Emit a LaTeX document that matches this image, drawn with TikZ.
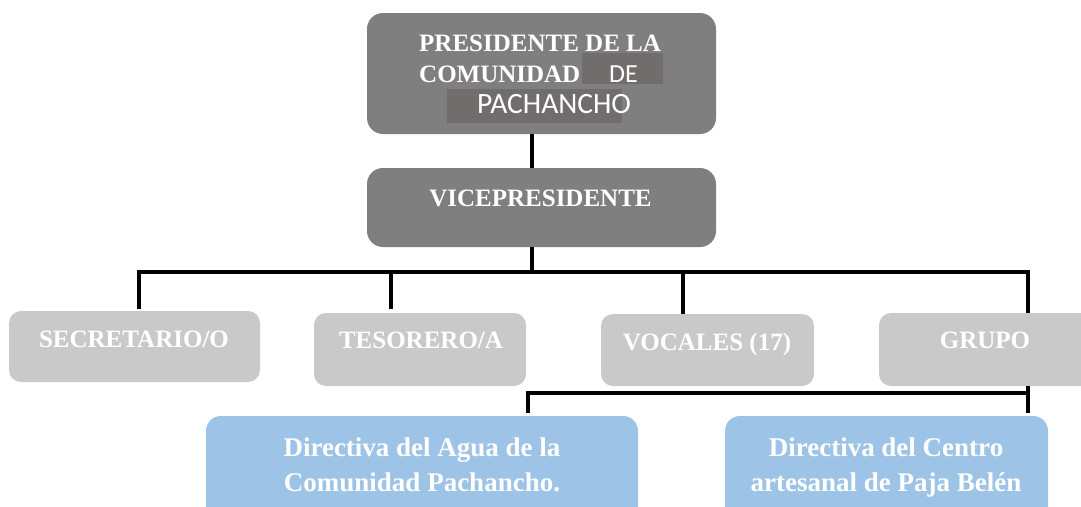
\documentclass[tikz,border=0pt]{standalone}
\usepackage{fontspec}
\setmainfont{Liberation Serif}
\newfontfamily\calib{Carlito}
\definecolor{darkbox}{HTML}{7F7F7F}
\definecolor{hlbox}{HTML}{716D6D}
\definecolor{lightbox}{HTML}{C9C9C9}
\definecolor{bluebox}{HTML}{9DC3E6}
\begin{document}
\begin{tikzpicture}[x=1pt,y=-1pt,
  boxshape/.style={draw=none, inner sep=0pt, outer sep=0pt, anchor=north west},
  darkshape/.style={boxshape, fill=darkbox, rounded corners=16pt},
  lightshape/.style={boxshape, fill=lightbox, rounded corners=12pt},
  blueshape/.style={boxshape, fill=bluebox, rounded corners=15pt},
  hlshape/.style={boxshape, fill=hlbox},
  boldtxt/.style={inner sep=0pt, text=white, font=\bfseries\fontsize{25}{30}\selectfont},
  bluetxt/.style={inner sep=0pt, text=white, font=\bfseries\fontsize{27}{32}\selectfont},
  sanstxt/.style={inner sep=0pt, text=white},
  conn/.style={draw=black, line width=4.2pt}
]
\useasboundingbox (0,0) rectangle (1081,506);
\fill[white] (0,0) rectangle (1081,506);

% boxes
\node[darkshape, minimum width=349pt, minimum height=121pt] (pres) at (367,13) {};
\node[darkshape, minimum width=349pt, minimum height=79pt] (vice) at (367,168) {};
\node[lightshape, minimum width=251pt, minimum height=71pt] (sec) at (9,311) {};
\node[lightshape, minimum width=212pt, minimum height=73pt] (tes) at (314,313) {};
\node[lightshape, minimum width=213pt, minimum height=72pt] (voc) at (601,314) {};
\node[lightshape, minimum width=230pt, minimum height=73pt] (grupo) at (879,313) {};
\node[blueshape, minimum width=432pt, minimum height=130pt] (b1) at (206,416) {};
\node[blueshape, minimum width=323pt, minimum height=130pt] (b2) at (725,416) {};

% highlight rectangles
\node[hlshape, minimum width=81pt, minimum height=31pt] (hlde) at (582,53) {};
\node[hlshape, minimum width=175pt, minimum height=34pt] (hlpa) at (447,89) {};

% texts
\node[boldtxt, anchor=base west] (t1) at (419,51) {PRESIDENTE DE LA};
\node[boldtxt, anchor=base west] (t2) at (419,82.5) {COMUNIDAD};
\node[sanstxt, anchor=base west, font=\calib\fontsize{26}{30}\selectfont] (t3) at (609,82) {DE};
\node[sanstxt, anchor=base west, font=\calib\fontsize{29.5}{34}\selectfont] (t4) at (477,113.5) {PACHANCHO};
\node[boldtxt, anchor=base] (tv) at (540.5,206) {VICEPRESIDENTE};
\node[boldtxt, anchor=base] (ts) at (134,347) {SECRETARIO/O};
\node[boldtxt, anchor=base] (tt) at (421,348) {TESORERO/A};
\node[boldtxt, anchor=base] (to) at (707,350) {VOCALES (17)};
\node[boldtxt, anchor=base] (tg) at (985,348) {GRUPO};
\node[bluetxt, anchor=base] (b1a) at (422,456) {Directiva del Agua de la};
\node[bluetxt, anchor=base] (b1b) at (422,491) {Comunidad Pachancho.};
\node[bluetxt, anchor=base] (b2a) at (886,456) {Directiva del Centro};
\node[bluetxt, anchor=base] (b2b) at (886,491) {artesanal de Paja Belén};

% connector coordinates
\coordinate (vx) at (532,272);
\coordinate (bl) at (139,272);
\coordinate (br) at (1028,272);
\coordinate (tx) at (391,272);
\coordinate (ox) at (683,272);
\coordinate (ll) at (528,393);
\coordinate (lr) at (1028,393);

% connectors
\draw[conn] (pres.south -| vx) -- (vice.north -| vx);
\draw[conn] (vice.south -| vx) -- (vx);
\draw[conn, shorten <=2pt] (sec.north -| bl) -- (bl) -- (br) -- (grupo.north -| br);
\draw[conn, shorten >=4pt] (tx) -- (tes.north -| tx);
\draw[conn] (ox) -- (voc.north -| ox);
\draw[conn, shorten >=3pt] (grupo.south -| lr) -- (b2.north -| lr);
\draw[conn, shorten >=3pt] (lr) -- (ll) -- (b1.north -| ll);
\end{tikzpicture}
\end{document}
